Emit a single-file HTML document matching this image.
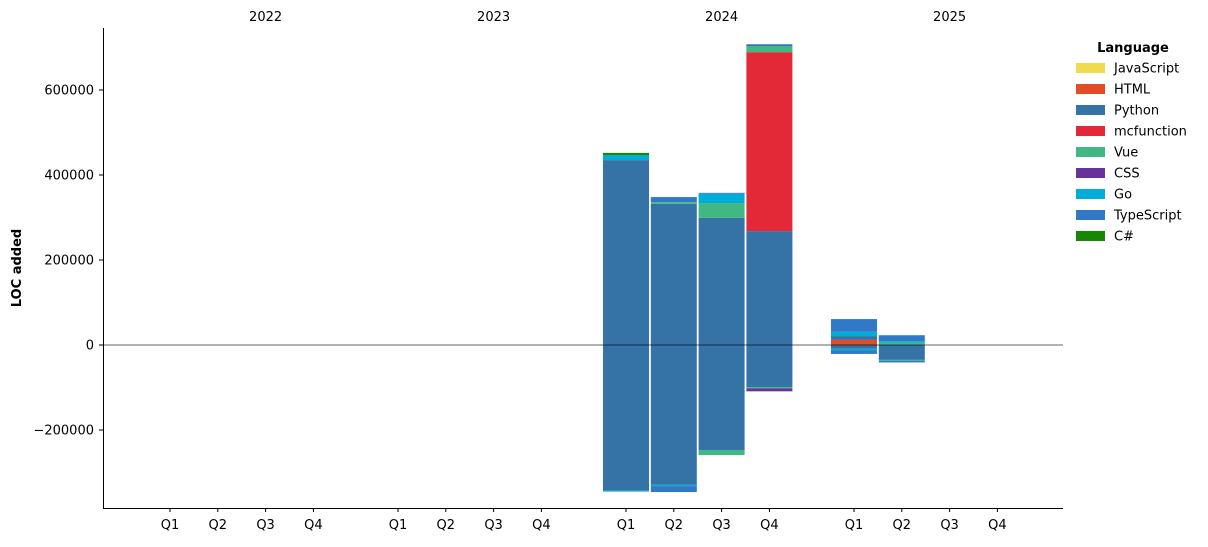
<!DOCTYPE html>
<html><head><meta charset="utf-8"><style>
body{margin:0;background:#fff}
svg{font-family:"DejaVu Sans","Liberation Sans",sans-serif;font-size:13px}
</style></head><body>
<svg id="chart" width="1208" height="542" viewBox="0 0 1208 542"></svg>
<script>
const languages=["JavaScript","HTML","Python","mcfunction","Vue","CSS","Go","TypeScript","C#"];
const colors=["#f0db4f","#e34c26","#3572a5","#e32937","#41b883","#663399","#00add8","#3178c6","#178600"];
const years=["2022","2023","2024","2025"];
const quarters=["Q1","Q2","Q3","Q4"];
// periods with data: [yearIndex, quarterIndex]
const periods=[[2,0],[2,1],[2,2],[2,3],[3,0],[3,1]];
// positive values per period, ordered as languages
const posValues=[
 [0,0,435000,0,0,0,12000,0,5000],
 [0,0,332000,0,4000,0,0,12000,0],
 [0,0,299000,0,35000,0,22000,2000,0],
 [0,0,268000,0,422000,0,0,0,0].map((v,i)=>v),
 [0,12000,9000,0,0,0,10000,30000,0],
 [0,0,0,0,5000,0,4000,14000,0]
];
posValues[3]=[0,0,268000,421000,15000,2000,2000,0,0];
const negValues=[
 [0,0,-343000,0,0,0,-2000,0,0],
 [0,0,-329000,0,0,0,-3000,-14000,0],
 [0,0,-247000,0,-12000,0,0,0,0],
 [0,0,-99000,0,-3000,-7000,0,0,0],
 [0,0,-9000,0,0,0,-4000,-8000,0],
 [0,0,-35000,0,-2000,0,0,-4000,0]
];
const yTicks=[-200000,0,200000,400000,600000];

const svg=document.getElementById('chart');
const NS='http://www.w3.org/2000/svg';
function mk(tag,attrs,parent){const e=document.createElementNS(NS,tag);for(const k in attrs)e.setAttribute(k,attrs[k]);(parent||svg).appendChild(e);return e;}
const y0=345,scale=85/200000;
function yPx(v){return y0-v*scale;}
const qStep=47.8,yearStep=228;
function xPx(yi,qi){return 170+yi*yearStep+qi*qStep;}
const bw=46;

// bars
periods.forEach((p,pi)=>{
  const cx=xPx(p[0],p[1]);
  let acc=0;
  posValues[pi].forEach((v,li)=>{
    if(v<=0)return;
    const r=mk('rect',{x:cx-bw/2,y:yPx(acc+v),width:bw,height:v*scale,fill:colors[li]});
    
    
    acc+=v;
  });
  acc=0;
  negValues[pi].forEach((v,li)=>{
    if(v>=0)return;
    const r=mk('rect',{x:cx-bw/2,y:yPx(acc),width:bw,height:-v*scale,fill:colors[li]});
    
    
    acc+=v;
  });
});

// zero line
const zl=mk('line',{x1:103,x2:1063,y1:yPx(0),y2:yPx(0),stroke:'#000','stroke-width':0.8,opacity:0.8});



// axes
const ax=mk('line',{x1:103.5,x2:103.5,y1:28,y2:508.5,stroke:'#000','stroke-width':1});


const bx=mk('line',{x1:103,x2:1063,y1:508.5,y2:508.5,stroke:'#000','stroke-width':1});



yTicks.forEach(t=>{
  const y=yPx(t);
  mk('line',{x1:99,x2:103,y1:y,y2:y,stroke:'#000'});
  const tx=mk('text',{x:94,y:y+4.5,'text-anchor':'end',fill:'#000'});
  tx.textContent=t<0?'\u2212'+(-t):String(t);
  
  
});
years.forEach((yr,yi)=>{
  quarters.forEach((q,qi)=>{
    const x=xPx(yi,qi);
    mk('line',{x1:x,x2:x,y1:508,y2:512,stroke:'#000'});
    const tx=mk('text',{x:x,y:529,'text-anchor':'middle',fill:'#000'});
    tx.textContent=q;
    
    
  });
  const yl=mk('text',{x:xPx(yi,2),y:21,'text-anchor':'middle',fill:'#000'});
  yl.textContent=yr;
  
  
});
const yt=mk('text',{x:21,y:268,'text-anchor':'middle','font-weight':'bold',transform:'rotate(-90 21 268)'});
yt.textContent='LOC added';



// legend
const lt=mk('text',{x:1133,y:52,'text-anchor':'middle','font-weight':'bold'});
lt.textContent='Language';


languages.forEach((l,i)=>{
  const y=68+i*21;
  const g=mk('g',{});
  
  
  mk('rect',{x:1076,y:y-5,width:29,height:10,fill:colors[i]},g);
  const t=mk('text',{x:1114,y:y+4.5},g);
  t.textContent=l;
});
</script>
</body></html>
